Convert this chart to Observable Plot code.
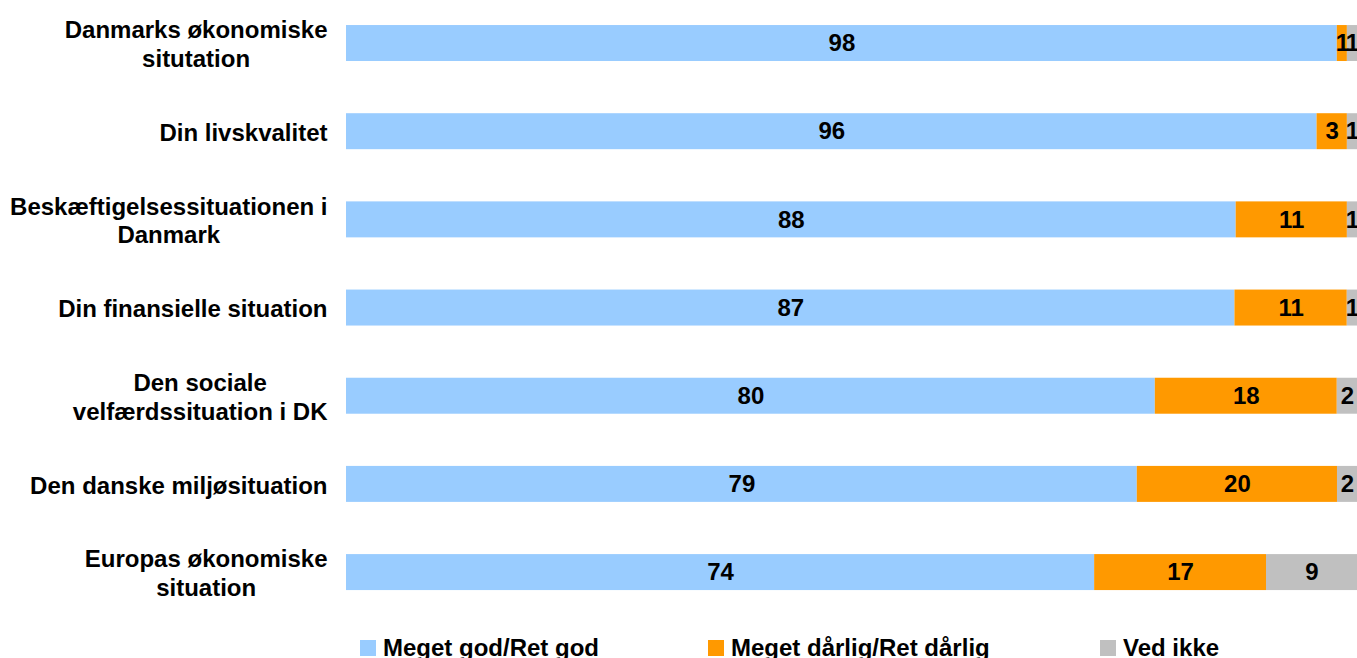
<!DOCTYPE html>
<html>
<head>
<meta charset="utf-8">
<script src="https://cdn.jsdelivr.net/npm/d3@7"></script>
<script src="https://cdn.jsdelivr.net/npm/@observablehq/plot@0.6"></script>
<style>
  html, body { margin: 0; padding: 0; background: #fff; overflow: hidden; }
  #wrap { position: relative; width: 1357px; height: 658px; }
  #legend { position: absolute; left: 0; top: 0; width: 1357px; height: 658px; pointer-events: none;
    font-family: 'Liberation Sans', Arial, sans-serif; font-weight: bold; font-size: 24px; color: #000; }
  .sw { position: absolute; width: 16px; height: 16px; top: 640px; }
  .lt { position: absolute; top: 636px; line-height: 24px; white-space: nowrap; }
</style>
</head>
<body>
<div id="wrap"><div id="chart"></div><div id="legend"></div></div>
<script>
const categories = [
  "Danmarks økonomiske\nsitutation",
  "Din livskvalitet",
  "Beskæftigelsessituationen i\nDanmark",
  "Din finansielle situation",
  "Den sociale\nvelfærdssituation i DK",
  "Den danske miljøsituation",
  "Europas økonomiske\nsituation"
];
const seriesNames = ["Meget god/Ret god", "Meget dårlig/Ret dårlig", "Ved ikke"];
const godValues    = [98, 96, 88, 87, 80, 79, 74];
const daarligValues = [1, 3, 11, 11, 18, 20, 17];
const vedIkkeValues = [1, 1, 1, 1, 2, 2, 9];
const seriesColors = ["#99CCFF", "#FF9900", "#C0C0C0"];

const seriesValues = [godValues, daarligValues, vedIkkeValues];
const data = [];
categories.forEach((c, i) => {
  seriesNames.forEach((s, j) => data.push({cat: c, series: s, value: seriesValues[j][i]}));
});

const FONT = "'Liberation Sans', Arial, sans-serif";
const ctx = document.createElement("canvas").getContext("2d");
ctx.font = "bold 24px " + FONT;
const blockWidth = (s) => Math.max(...s.split("\n").map(l => ctx.measureText(l).width));

const labelMarks = categories.map(c => Plot.text([c], {
  frameAnchor: "left", y: d => d, text: d => d,
  textAnchor: "middle", lineHeight: 1.2,
  dx: -(19 + blockWidth(c) / 2),
  fontSize: 24, fontWeight: "bold", fill: "#000"
}));

const chart = Plot.plot({
  width: 1357,
  height: 625,
  marginLeft: 346,
  marginRight: 0,
  marginTop: 7.4,
  marginBottom: 17.3,
  style: {fontFamily: FONT, fontSize: "24px", background: "#fff"},
  x: {domain: [0, 1], axis: null},
  y: {domain: categories, axis: null, paddingInner: 0.592, paddingOuter: 0.2, round: false},
  color: {domain: seriesNames, range: seriesColors},
  marks: [
    Plot.barX(data, Plot.stackX({x: "value", y: "cat", fill: "series", offset: "normalize"})),
    Plot.text(data, Plot.stackX({x: "value", y: "cat", text: d => String(d.value), offset: "normalize",
      fontSize: 24, fontWeight: "bold", fill: "#000"})),
    ...labelMarks
  ]
});
document.getElementById("chart").appendChild(chart);

const legendX = [360, 708, 1100];
const legend = document.getElementById("legend");
seriesNames.forEach((s, i) => {
  const sw = document.createElement("div");
  sw.className = "sw";
  sw.style.left = legendX[i] + "px";
  sw.style.background = seriesColors[i];
  legend.appendChild(sw);
  const t = document.createElement("div");
  t.className = "lt";
  t.style.left = (legendX[i] + 23) + "px";
  t.textContent = s;
  legend.appendChild(t);
});
</script>
</body>
</html>
